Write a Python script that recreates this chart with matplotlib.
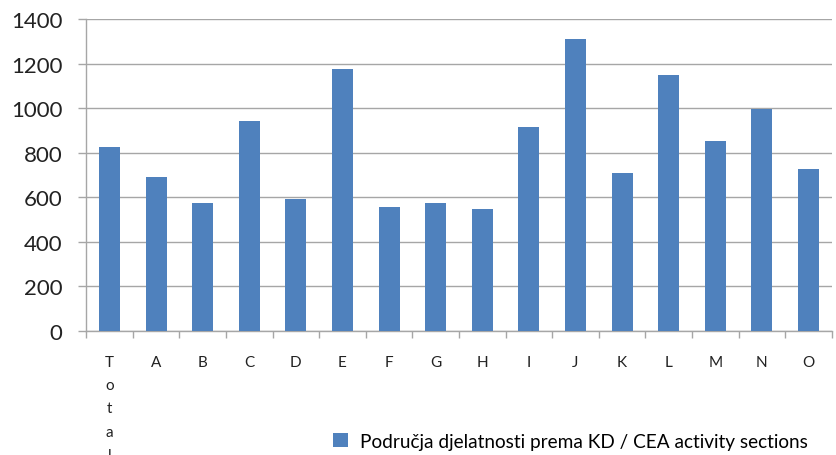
import numpy as np
import matplotlib
matplotlib.use('Agg')
import matplotlib.pyplot as plt

plt.rcParams['font.family'] = ['Lato', 'DejaVu Sans']

# Podaci po područjima djelatnosti
categories = ['Total', 'A', 'B', 'C', 'D', 'E', 'F', 'G', 'H', 'I', 'J', 'K', 'L', 'M', 'N', 'O']
values = [826, 691, 574, 942, 592, 1176, 556, 574, 547, 915, 1310, 709, 1149, 853, 996, 727]
y_ticks = [0, 200, 400, 600, 800, 1000, 1200, 1400]
legend_label = 'Područja djelatnosti prema KD / CEA activity sections'

bar_color = '#4F81BD'
grid_color = '#A6A6A6'

fig = plt.figure(figsize=(8.36, 4.56), dpi=100)
ax = fig.add_axes([0.103, 0.272, 0.892, 0.684])

x = np.arange(len(categories))
bars = ax.bar(x, values, width=0.45, color=bar_color, label=legend_label, zorder=3)

ax.set_xlim(-0.5, len(categories) - 0.5)
ax.set_ylim(0, 1400)
ax.set_yticks(y_ticks)
ax.set_yticklabels([str(v) for v in y_ticks], fontsize=16, color='#222222')
ax.yaxis.grid(True, color=grid_color, linewidth=1.0, zorder=0)

# x oznake: "Total" okomito slovo po slovo
xlabels = ['\n'.join(c) if c == 'Total' else c for c in categories]
ax.set_xticks(x)
ax.set_xticklabels(xlabels, fontsize=11, color='#222222', va='top', linespacing=1.85)
ax.set_xticks(np.arange(-0.5, len(categories), 1.0), minor=True)
ax.tick_params(axis='x', which='major', length=0, pad=17)
ax.tick_params(axis='x', which='minor', length=5, color=grid_color, width=1)
ax.tick_params(axis='y', length=6, color=grid_color, width=1, pad=11)

for s in ['top', 'right']:
    ax.spines[s].set_visible(False)
for s in ['left', 'bottom']:
    ax.spines[s].set_color(grid_color)
    ax.spines[s].set_linewidth(1.0)

fig.legend(handles=[bars], labels=[legend_label], loc='center',
           bbox_to_anchor=(0.682, 0.03), frameon=False, fontsize=13.7,
           handlelength=0.8, handleheight=0.8, handletextpad=0.6)

fig.savefig('out.png', dpi=100)
